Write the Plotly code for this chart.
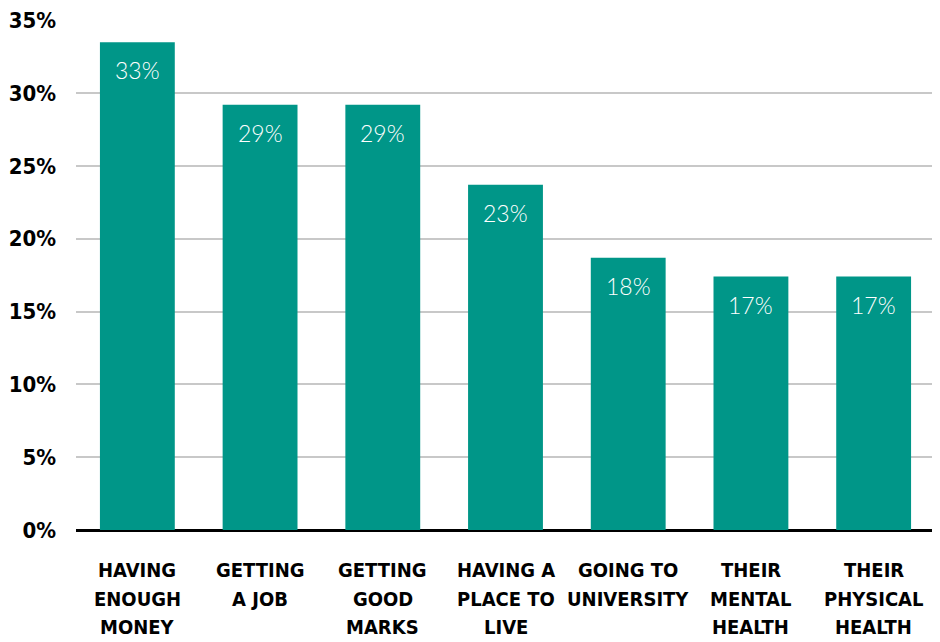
import plotly.graph_objects as go

categories = ["HAVING ENOUGH MONEY", "GETTING A JOB", "GETTING GOOD MARKS",
              "HAVING A PLACE TO LIVE", "GOING TO UNIVERSITY", "THEIR MENTAL HEALTH",
              "THEIR PHYSICAL HEALTH"]
category_lines = [["HAVING", "ENOUGH", "MONEY"], ["GETTING", "A JOB"], ["GETTING", "GOOD", "MARKS"],
                  ["HAVING A", "PLACE TO", "LIVE"], ["GOING TO", "UNIVERSITY"], ["THEIR", "MENTAL", "HEALTH"],
                  ["THEIR", "PHYSICAL", "HEALTH"]]
values = [33.5, 29.2, 29.2, 23.7, 18.7, 17.4, 17.4]
labels = ["33%", "29%", "29%", "23%", "18%", "17%", "17%"]
tick_vals = [0, 5, 10, 15, 20, 25, 30, 35]
tick_text = ["0%", "5%", "10%", "15%", "20%", "25%", "30%", "35%"]

teal = "#009688"

fig = go.Figure()
fig.add_trace(go.Bar(x=categories, y=values, marker=dict(color=teal, line=dict(width=0)),
                     hoverinfo="skip"))

for c, v, t in zip(categories, values, labels):
    fig.add_annotation(x=c, y=v, text=t, showarrow=False, yanchor="top", yshift=-12,
                       font=dict(family="Lato", size=23, color="white", weight=300))

for c, lines in zip(categories, category_lines):
    for i, ln in enumerate(lines):
        fig.add_annotation(x=c, y=0, yref="y", text=ln, showarrow=False, yanchor="middle",
                           yshift=-40 - 28.5 * i,
                           font=dict(family="DejaVu Sans Condensed", size=20, color="black", weight="bold"))

fig.update_layout(
    width=932, height=634,
    margin=dict(l=68, r=5, t=12, b=112, autoexpand=False),
    paper_bgcolor="white", plot_bgcolor="white",
    bargap=0.39,
    showlegend=False,
    xaxis=dict(showticklabels=False, showgrid=False, ticks="", automargin=False),
    yaxis=dict(range=[0, 35.02], tickvals=tick_vals, ticktext=tick_text,
               tickfont=dict(family="DejaVu Sans Condensed", size=22, color="black", weight="bold"),
               showgrid=True, gridcolor="#c8c8c8", gridwidth=1.5,
               zeroline=True, zerolinecolor="black", zerolinewidth=2.5,
               ticks="", ticklabelstandoff=19, automargin=False,
               ticklabeloverflow="allow"),
)

fig.write_html("out.html")
